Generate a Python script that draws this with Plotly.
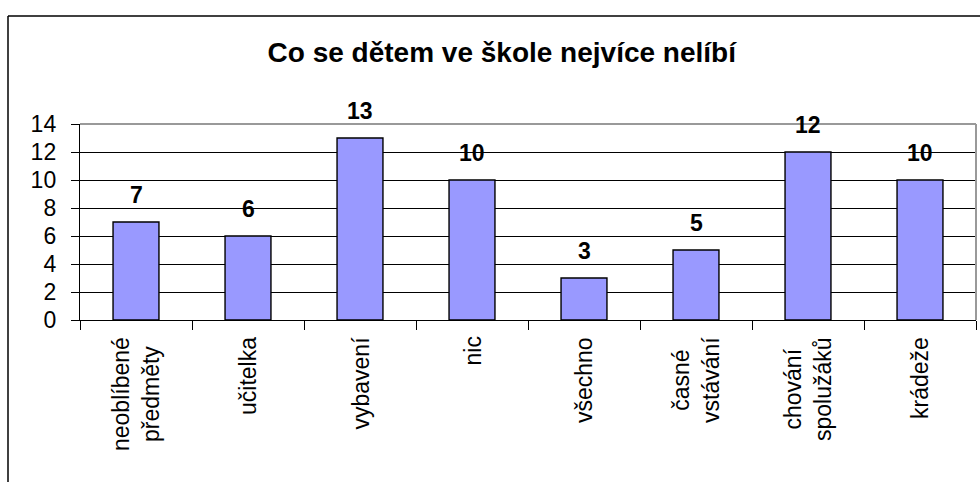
import plotly.graph_objects as go

categories = ["neoblíbené předměty", "učitelka", "vybavení", "nic", "všechno",
              "časné vstávání", "chování spolužáků", "krádeže"]
cat_labels = ["neoblíbené<br>předměty", "učitelka", "vybavení", "nic", "všechno",
              "časné<br>vstávání", "chování<br>spolužáků", "krádeže"]
values = [7, 6, 13, 10, 3, 5, 12, 10]
y_ticks = [0, 2, 4, 6, 8, 10, 12, 14]

FONT = "Liberation Sans, Arial, sans-serif"
W, H = 980, 482
L, R, T, B = 80, 4, 124, 162
pw, ph = W - L - R, H - T - B

fig = go.Figure()
fig.add_trace(go.Bar(
    x=categories, y=values,
    marker=dict(color="#9999FF", line=dict(color="black", width=1.4)),
    width=0.41, showlegend=False, hoverinfo="x+y"
))

# hodnoty nad sloupci
for c, v in zip(categories, values):
    fig.add_annotation(x=c, y=v, text=f"<b>{v}</b>", showarrow=False,
                       yshift=27, font=dict(family=FONT, size=23, color="black"))

# popisky kategorií (svisle, řádky na střed)
for c, lab in zip(categories, cat_labels):
    fig.add_annotation(x=c, y=0, yref="paper", text=lab, showarrow=False,
                       textangle=-90, align="center", xanchor="center", yanchor="top",
                       yshift=-15, font=dict(family=FONT, size=23, color="black"))

# rámeček grafu (jen horní a levá hrana jsou vidět)
px = lambda p: (p - L) / pw
py = lambda p: (H - B - p) / ph
fig.add_shape(type="line", xref="paper", yref="paper", x0=px(8), x1=px(W + 5),
              y0=py(16), y1=py(16), line=dict(color="black", width=1.5))
fig.add_shape(type="line", xref="paper", yref="paper", x0=px(8), x1=px(8),
              y0=py(16), y1=py(H + 5), line=dict(color="black", width=1.5))
# šedý okraj plochy grafu nahoře a vpravo
fig.add_shape(type="line", xref="paper", yref="paper", x0=0, x1=1, y0=1, y1=1,
              line=dict(color="#999999", width=2))
fig.add_shape(type="line", xref="paper", yref="paper", x0=1, x1=1, y0=0, y1=1,
              line=dict(color="#999999", width=2))

fig.update_layout(
    width=W, height=H,
    margin=dict(l=L, r=R, t=T, b=B),
    paper_bgcolor="white", plot_bgcolor="white",
    title=dict(text="<b>Co se dětem ve škole nejvíce nelíbí</b>",
               x=0.512, xref="container", y=1 - 52 / H, yref="container",
               yanchor="middle", font=dict(family=FONT, size=28, color="black")),
    font=dict(family=FONT, size=22, color="black"),
    bargap=0.59,
)
fig.update_xaxes(
    showticklabels=False, showline=True, linecolor="black", linewidth=1.4,
    ticks="outside", ticklen=9, tickcolor="black", tickson="boundaries",
    showgrid=False, range=[-0.5, 7.5]
)
fig.update_yaxes(
    range=[0, 14], tickvals=y_ticks, showline=True, linecolor="black", linewidth=1.4,
    ticks="outside", ticklen=8, tickcolor="black", showgrid=True,
    gridcolor="black", gridwidth=1, zeroline=False, tickfont=dict(size=23),
    ticklabelstandoff=10
)

fig.write_html("out.html", config={"displayModeBar": False},
               post_script="document.body.style.margin='0';")
